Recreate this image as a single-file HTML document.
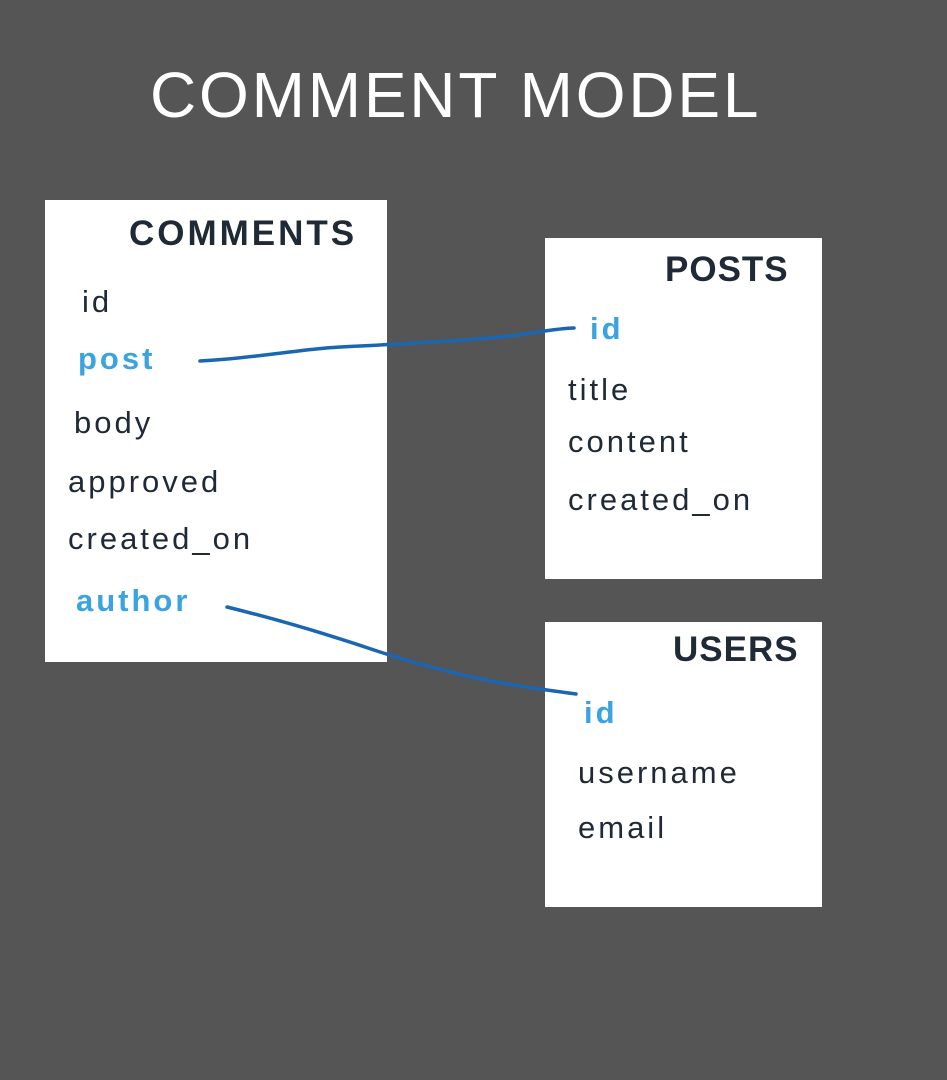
<!DOCTYPE html>
<html><head><meta charset="utf-8"><style>
body{margin:0;width:947px;height:1080px;background:#555555;position:relative;overflow:hidden;font-family:"Liberation Sans",sans-serif;}
.t{position:absolute;white-space:nowrap;}
.box{position:absolute;background:#fff;}
.h{color:#1f2a36;font-weight:bold;font-size:35px;letter-spacing:1px;}
.f{color:#1f2a36;font-size:31px;letter-spacing:3px;}
.b{color:#3aa3e0;font-weight:bold;font-size:31px;letter-spacing:3px;}
</style></head><body>
<div class="t" style="left:150px;top:58px;color:#fff;font-size:64px;letter-spacing:2.8px;">COMMENT MODEL</div>
<div class="box" style="left:45px;top:200px;width:342px;height:462px;"></div>
<div class="box" style="left:545px;top:238px;width:277px;height:341px;"></div>
<div class="box" style="left:545px;top:622px;width:277px;height:285px;"></div>

<div class="t h" style="left:129px;top:214px;letter-spacing:3px;">COMMENTS</div>
<div class="t f" style="left:82px;top:284px;">id</div>
<div class="t b" style="left:78px;top:341px;">post</div>
<div class="t f" style="left:74px;top:405px;">body</div>
<div class="t f" style="left:68px;top:464px;">approved</div>
<div class="t f" style="left:68px;top:521px;">created_on</div>
<div class="t b" style="left:76px;top:583px;">author</div>

<div class="t h" style="left:665px;top:250px;">POSTS</div>
<div class="t b" style="left:590px;top:311px;">id</div>
<div class="t f" style="left:568px;top:372px;">title</div>
<div class="t f" style="left:568px;top:424px;">content</div>
<div class="t f" style="left:568px;top:482px;">created_on</div>

<div class="t h" style="left:673px;top:630px;">USERS</div>
<div class="t b" style="left:584px;top:695px;">id</div>
<div class="t f" style="left:578px;top:755px;">username</div>
<div class="t f" style="left:578px;top:810px;">email</div>

<svg width="947" height="1080" style="position:absolute;left:0;top:0">
<path d="M200 361 C260 358 300 348 360 346 C420 343 470 340 510 336 C540 332 560 328 574 328" fill="none" stroke="#1a66b3" stroke-width="3.5" stroke-linecap="round"/>
<path d="M227 607 C280 620 330 635 380 652 C430 668 480 680 520 686 C545 690 562 692 576 694" fill="none" stroke="#1a66b3" stroke-width="3.5" stroke-linecap="round"/>
</svg>
</body></html>
